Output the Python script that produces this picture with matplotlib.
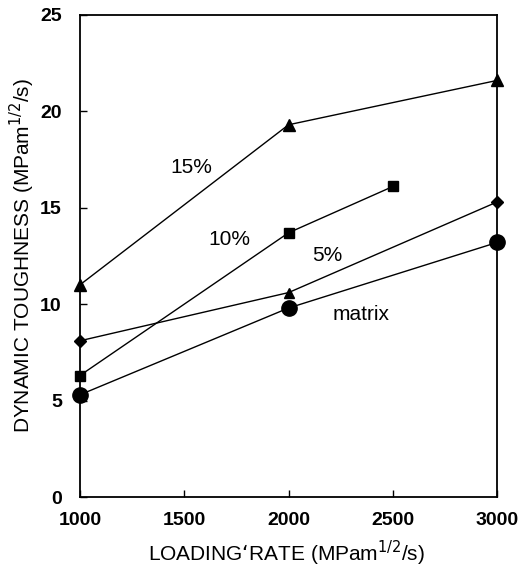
import matplotlib.pyplot as plt

plt.rcParams["font.family"] = ["Liberation Sans", "DejaVu Sans"]

# data
rate_15 = [1000, 2000, 3000]
tough_15 = [11.0, 19.3, 21.6]

rate_10 = [1000, 2000, 2500]
tough_10 = [6.3, 13.7, 16.1]

rate_5 = [1000, 2000, 3000]
tough_5 = [8.1, 10.6, 15.3]
markers_5 = ["D", "^", "D"]

rate_m = [1000, 2000, 3000]
tough_m = [5.3, 9.8, 13.2]

x_ticks = [1000, 1500, 2000, 2500, 3000]
y_ticks = [0, 5, 10, 15, 20, 25]

fig = plt.figure(figsize=(5.19, 5.70), dpi=100)
ax = fig.add_axes([0.154, 0.128, 0.804, 0.846])

lw = 1.0
ax.plot(rate_15, tough_15, "-^", color="black", lw=lw, ms=9, clip_on=False, zorder=3)
ax.plot(rate_10, tough_10, "-s", color="black", lw=lw, ms=6.5, clip_on=False, zorder=3)
ax.plot(rate_5, tough_5, "-", color="black", lw=lw, clip_on=False)
for x, y, m in zip(rate_5, tough_5, markers_5):
    ax.plot(x, y, marker=m, color="black", ms=7 if m == "^" else 6, ls="none",
            clip_on=False, zorder=3)
ax.plot(rate_m, tough_m, "-o", color="black", lw=lw, ms=11, clip_on=False, zorder=3)

# series labels
ax.text(1536, 17.1, "15%", fontsize=15, ha="center", va="center")
ax.text(1718, 13.35, "10%", fontsize=15, ha="center", va="center")
ax.text(2187, 12.5, "5%", fontsize=15, ha="center", va="center")
ax.text(2349, 9.45, "matrix", fontsize=15, ha="center", va="center")

ax.set_xlim(1000, 3000)
ax.set_ylim(0, 25)
ax.set_xticks(x_ticks)
ax.set_yticks(y_ticks)
ax.tick_params(direction="in", length=5, width=1, labelsize=14)
ax.tick_params(axis="x", pad=11)
ax.tick_params(axis="y", pad=13)
for lab in ax.get_xticklabels() + ax.get_yticklabels():
    lab.set_fontweight("bold")
for s in ax.spines.values():
    s.set_linewidth(1.3)
ax.set_xlabel(r"LOADING‘RATE (MPam$^{1/2}$/s)", fontsize=15, va="center")
ax.set_ylabel(r"DYNAMIC TOUGHNESS (MPam$^{1/2}$/s)", fontsize=15, va="center")
ax.xaxis.set_label_coords(0.494, -0.116)
ax.yaxis.set_label_coords(-0.139, 0.5)

fig.savefig("out.png", dpi=100)
